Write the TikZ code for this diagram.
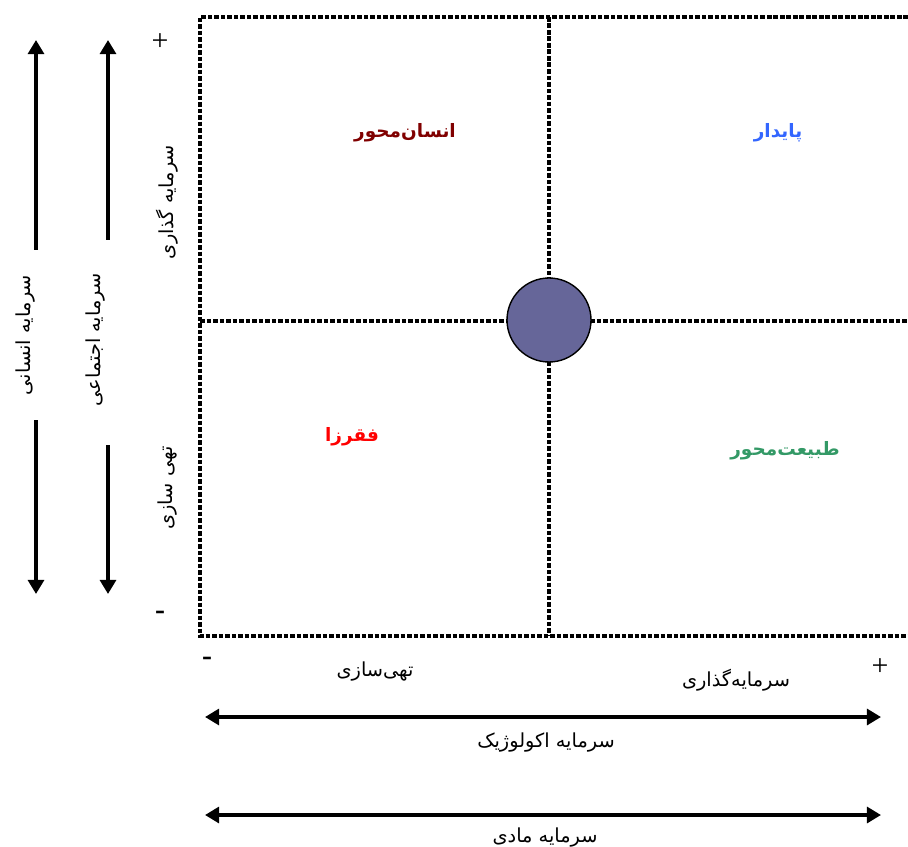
\documentclass[tikz,border=0pt]{standalone}
\usepackage{fontspec}
\setmainfont{Liberation Serif}
\newfontfamily\arabicfont[Script=Arabic]{DejaVu Sans}
\TeXXeTstate=1
\usetikzlibrary{arrows.meta}
\definecolor{hub}{HTML}{666699}
\definecolor{humanc}{HTML}{800000}
\definecolor{stablec}{HTML}{3366FF}
\definecolor{povertyc}{HTML}{FF0000}
\definecolor{naturec}{HTML}{339966}
\newcommand{\fatext}[1]{\arabicfont\beginR #1\endR}

\begin{document}
\begin{tikzpicture}[
    x=0.02cm,y=-0.02cm,
    grid/.style={line width=2.5pt,dash pattern=on 2.7pt off 1pt},
    arrow/.style={-{Triangle[length=8pt,width=9pt]},line width=2pt},
    twoway/.style={{Triangle[length=8pt,width=9pt]}-{Triangle[length=8pt,width=9pt]},line width=2pt},
    lbl/.style={font=\fontsize{11}{13}\selectfont,inner sep=1pt},
    side/.style={lbl,rotate=90},
    quad/.style={font=\fontsize{10.5}{12}\selectfont\bfseries,inner sep=1pt},
    sign/.style={font=\fontsize{17}{19}\selectfont,inner sep=0pt}
  ]
    \useasboundingbox (0,0) rectangle (908,847);

    % quadrant frame
    \coordinate (tl) at (200,17);
    \coordinate (tm) at (549,17);
    \coordinate (tr) at (908,17);
    \coordinate (ml) at (200,321);
    \coordinate (mr) at (908,321);
    \coordinate (bl) at (200,636);
    \coordinate (bm) at (549,636);
    \coordinate (br) at (908,636);
    \draw[grid] (tr) -- (tl) -- (bl) -- (br);
    \draw[grid] (tm) -- (bm);
    \draw[grid] (ml) -- (mr);
    \node[circle,draw,fill=hub,minimum size=1.68cm,line width=0.8pt] (hub) at (549,320) {};

    \node[quad,text=humanc] (human) at (405,133) {\fatext{انسان^^^^200cمحور}};
    \node[quad,text=stablec] (stable) at (778,133) {\fatext{پایدار}};
    \node[quad,text=povertyc] (poverty) at (352,437) {\fatext{فقرزا}};
    \node[quad,text=naturec] (nature) at (785,451) {\fatext{طبیعت^^^^200cمحور}};

    % vertical axis
    \node[sign] (yplus) at (160,42) {+};
    \node[sign] (yminus) at (160,615) {\textbf{-}};
    \node[side] (yinvest) at (167,202) {\fatext{سرمایه گذاری}};
    \node[side] (ydeplete) at (168,488) {\fatext{تهی سازی}};

    \node[side] (humcap) at (26,335) {\fatext{سرمایه انسانی}};
    \coordinate (humtop) at (36,40);
    \coordinate (humup) at (36,250);
    \coordinate (humdown) at (36,420);
    \coordinate (humbot) at (36,594);
    \draw[arrow] (humup) -- (humtop);
    \draw[arrow] (humdown) -- (humbot);

    \node[side] (soccap) at (96,340) {\fatext{سرمایه اجتماعی}};
    \coordinate (soctop) at (108,40);
    \coordinate (socup) at (108,240);
    \coordinate (socdown) at (108,445);
    \coordinate (socbot) at (108,594);
    \draw[arrow] (socup) -- (soctop);
    \draw[arrow] (socdown) -- (socbot);

    % horizontal axis
    \node[sign] (xminus) at (207,661) {\textbf{-}};
    \node[sign] (xplus) at (880,667) {+};
    \node[lbl] (xdeplete) at (375,672) {\fatext{تهی^^^^200cسازی}};
    \node[lbl] (xinvest) at (736,680) {\fatext{سرمایه^^^^200cگذاری}};

    \coordinate (ecoleft) at (205,717);
    \coordinate (ecoright) at (881,717);
    \draw[twoway] (ecoleft) -- (ecoright);
    \node[lbl] (ecocap) at (546,743) {\fatext{سرمایه اکولوژیک}};

    \coordinate (matleft) at (205,815);
    \coordinate (matright) at (881,815);
    \draw[twoway] (matleft) -- (matright);
    \node[lbl] (matcap) at (545,838) {\fatext{سرمایه مادی}};
  \end{tikzpicture}
\end{document}
